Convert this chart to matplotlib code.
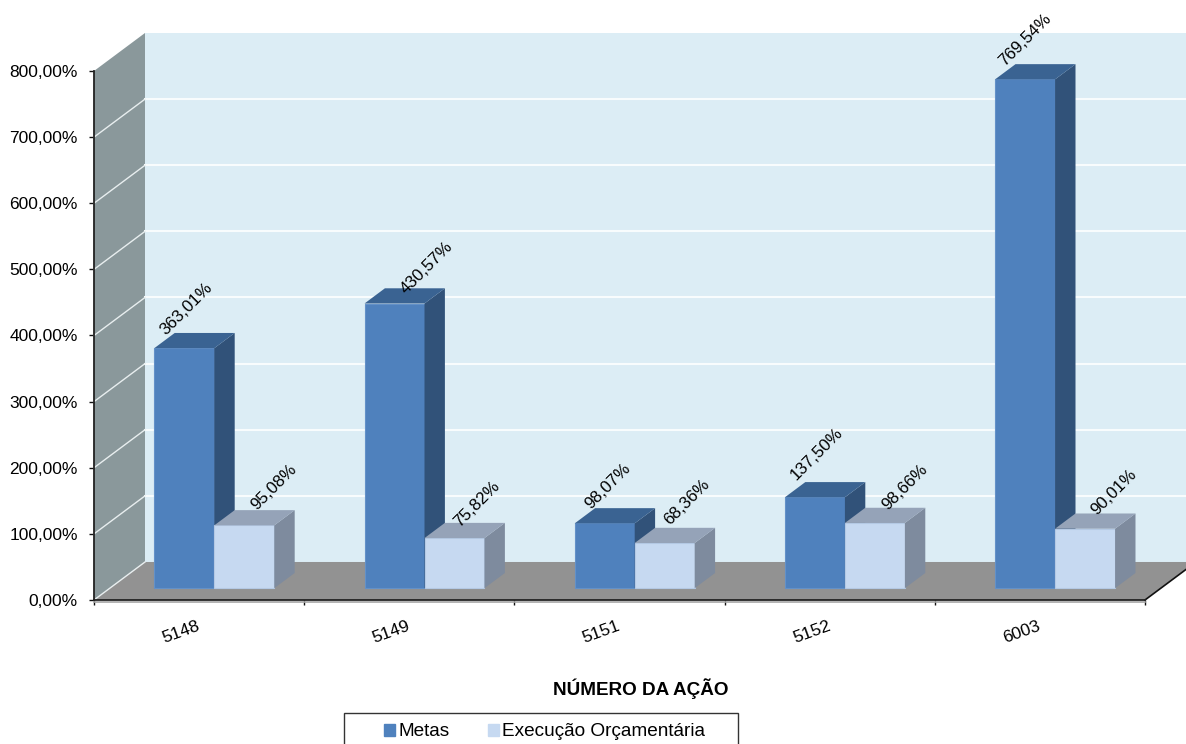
import matplotlib
matplotlib.use("Agg")
import matplotlib.pyplot as plt
from matplotlib.patches import Polygon, Patch, Rectangle

acoes = ["5148", "5149", "5151", "5152", "6003"]
metas = [363.01, 430.57, 98.07, 137.50, 769.54]
execucao = [95.08, 75.82, 68.36, 98.66, 90.01]
y_ticks = [0, 100, 200, 300, 400, 500, 600, 700, 800]

plt.rcParams["font.family"] = ["Liberation Sans", "DejaVu Sans"]

W, H = 1186, 744
fig = plt.figure(figsize=(W / 100, H / 100), dpi=100)
ax = fig.add_axes([94 / W, 1 - 600 / H, (1145 - 94) / W, (600 - 71) / H])
ax.set_xlim(0, 5)
ax.set_ylim(0, 800)
ax.patch.set_visible(False)

# oblique depth of the chart box, in data units per unit of depth
DX = 51 / 210.2
DY = 38 / 0.661
BAR_W = 0.2854
BAR_D0 = 0.31
BAR_D1 = 0.71


def proj(x, v, d=0.0):
    return (x + d * DX, v + d * DY)


def face(pts, color, z, edge="none"):
    ax.add_patch(Polygon(pts, closed=True, facecolor=color, edgecolor=edge,
                         linewidth=0.8, zorder=z, clip_on=False))


def bar3d(x, v, front, side, top, edge, z):
    x2 = x + BAR_W
    face([proj(x, 0, BAR_D0), proj(x2, 0, BAR_D0), proj(x2, v, BAR_D0), proj(x, v, BAR_D0)],
         front, z, edge)
    face([proj(x2, 0, BAR_D0), proj(x2, 0, BAR_D1), proj(x2, v, BAR_D1), proj(x2, v, BAR_D0)],
         side, z)
    face([proj(x, v, BAR_D0), proj(x2, v, BAR_D0), proj(x2, v, BAR_D1), proj(x, v, BAR_D1)],
         top, z)


# walls and floor
face([proj(0, 0, 1), proj(5.2, 0, 1), proj(5.2, 800, 1), proj(0, 800, 1)], "#DCEDF5", 1)
face([proj(0, 0), proj(0, 0, 1), proj(0, 800, 1), proj(0, 800)], "#8A989B", 1)
face([proj(0, 0), proj(5, 0), proj(5, 0, 1), proj(0, 0, 1)], "#929292", 2)

for v in y_ticks[:-1]:
    xs, ys = zip(proj(0, v), proj(0, v, 1))
    ax.plot(xs, ys, color="#E8EEEF", lw=1.0, zorder=3, clip_on=False)
    if v > 0:
        ax.plot([proj(0, v, 1)[0], 5.3], [proj(0, v, 1)[1]] * 2, color="#F8FCFD",
                lw=1.5, zorder=1.5, clip_on=False)

# right edge of the floor and the grey lip under the front edge
xs, ys = zip(proj(5, 0), proj(5, 0, 1))
ax.plot(xs, ys, color="#111111", lw=1.2, zorder=3, clip_on=False)
ax.plot([0, 5], [-2.5, -2.5], color="#A6A6A6", lw=1.2, zorder=3, clip_on=False)

# offset of each data label from the bar's top left corner, pixels
metas_off = [(12, 13), (42, 9), (16, 14), (11, 17), (10, 13)]
exec_off = [(43, 15), (35, 10), (35, 17), (43, 12), (42, 13)]

for i in range(len(acoes)):
    x1 = i + 44.5 / 210.2
    x2 = x1 + BAR_W
    bar3d(x1, metas[i], "#4F81BD", "#315279", "#3A6392", "#6391C8", 4 + i)
    bar3d(x2, execucao[i], "#C6D9F1", "#7E8B9E", "#95A3B8", "#B4C9E4", 4.5 + i)
    for x, v, off in ((x1, metas[i], metas_off[i]), (x2, execucao[i], exec_off[i])):
        ax.annotate(f"{v:.2f}%".replace(".", ","), xy=proj(x, v, BAR_D0), xytext=off,
                    textcoords="offset pixels", rotation=45, rotation_mode="anchor",
                    ha="left", va="baseline", fontsize=12.2, color="black",
                    annotation_clip=False, zorder=20)

    ax.annotate(acoes[i], xy=(i + 0.5, 0), xytext=(-18, -32), textcoords="offset pixels",
                rotation=20, rotation_mode="anchor", ha="center", va="center",
                fontsize=12.5, annotation_clip=False)

for s in ("top", "right"):
    ax.spines[s].set_visible(False)
for s in ("left", "bottom"):
    ax.spines[s].set_color("#222222")
    ax.spines[s].set_linewidth(1.3)
    ax.spines[s].set_zorder(15)

ax.set_yticks(y_ticks)
ax.set_yticklabels([f"{v},00%" for v in y_ticks], fontsize=12.5)
ax.tick_params(axis="y", length=3.6, width=1, pad=8, color="#111111")
ax.set_xticks(range(6))
ax.set_xticklabels([])
ax.tick_params(axis="x", length=3.6, width=1, color="#111111")

fig.text(641 / W, 1 - 689 / H, "NÚMERO DA AÇÃO", fontsize=13.6, fontweight="bold",
         ha="center", va="center")

# legend runs off the bottom of the page
fig.add_artist(Rectangle((344 / W, -0.02), (738 - 344) / W, 1 - 713 / H + 0.02,
                         transform=fig.transFigure, facecolor="white",
                         edgecolor="#333333", linewidth=1))
handles = [Patch(color="#4F81BD", label="Metas"),
           Patch(color="#C6D9F1", label="Execução Orçamentária")]
fig.legend(handles=handles, ncol=2, frameon=False, fontsize=13.7, loc="center left",
           bbox_to_anchor=(384 / W, 1 - 732 / H), borderpad=0, borderaxespad=0,
           handlelength=0.58, handleheight=0.58, handletextpad=0.16, columnspacing=2.05)

fig.savefig("out.png", dpi=100)
